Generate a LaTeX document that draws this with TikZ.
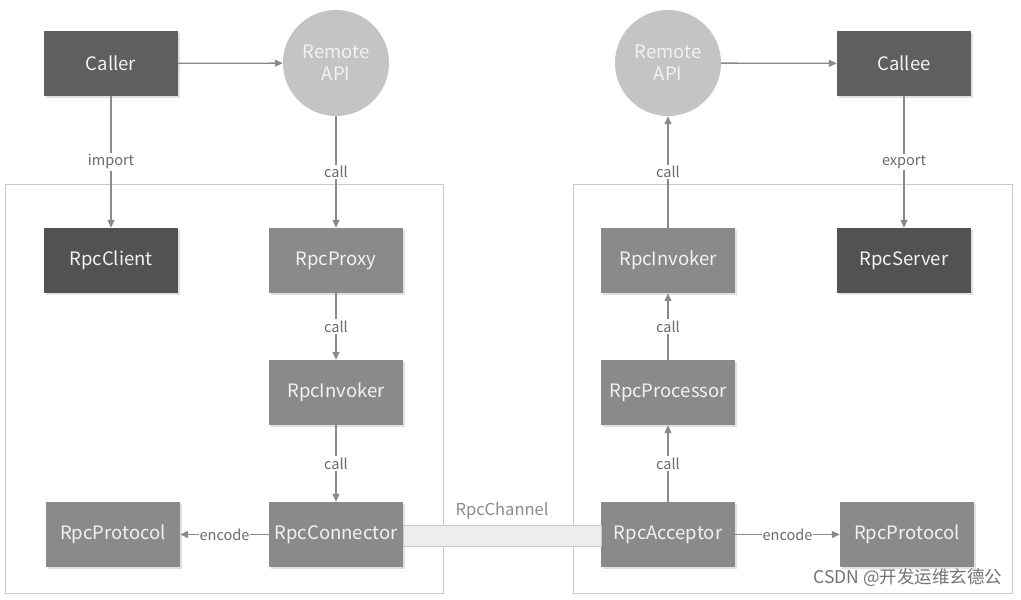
\documentclass[tikz,border=0pt]{standalone}
\usepackage{fontspec}
\setmainfont{Noto Sans CJK SC}
\newfontfamily\cjkfont{Noto Sans CJK SC}
\usetikzlibrary{arrows.meta,shadows}
\definecolor{darkbox}{HTML}{5F5F5F}
\definecolor{darkerbox}{HTML}{525252}
\definecolor{midbox}{HTML}{8A8A8A}
\definecolor{circfill}{HTML}{C4C4C4}
\definecolor{linecol}{HTML}{8A8A8A}
\definecolor{framecol}{HTML}{C8C8C8}
\definecolor{boxtext}{HTML}{F2F2F2}
\definecolor{labcol}{HTML}{6A6A6A}
\tikzset{
  basebox/.style={rectangle, minimum width=134pt, minimum height=65pt, inner sep=0pt,
    text=boxtext, font=\fontsize{18.5}{20}\selectfont,
    drop shadow={shadow xshift=1.5pt, shadow yshift=-1.5pt, fill=black, opacity=0.12}},
  darkb/.style={basebox, fill=darkbox},
  darkerb/.style={basebox, fill=darkerbox},
  midb/.style={basebox, fill=midbox},
  apicirc/.style={circle, fill=circfill, minimum size=106pt, inner sep=0pt, align=center,
    text=boxtext, font=\fontsize{18.5}{22}\selectfont},
  conn/.style={draw=linecol, line width=1.3pt, -{Triangle[length=8pt,width=7pt]}},
  lab/.style={fill=white, inner sep=1.5pt, text=labcol, font=\fontsize{14.5}{16}\selectfont},
  frame/.style={draw=framecol, line width=1pt},
}
\begin{document}
\begin{tikzpicture}[x=1pt,y=-1pt]
\useasboundingbox (0,0) rectangle (1021,600);
\fill[white] (0,0) rectangle (1021,600);
% containers
\draw[frame] (5,184) rectangle (443,593);
\draw[frame] (573,184) rectangle (1012,593);
% nodes
\node[darkb] (caller) at (111,63.5) {Caller};
\node[apicirc] (apiL) at (336,63) {Remote\\API};
\node[apicirc] (apiR) at (668,63) {Remote\\API};
\node[darkb] (callee) at (904,63.5) {Callee};
\node[darkerb] (client) at (111,260.5) {RpcClient};
\node[midb] (proxy) at (336,260.5) {RpcProxy};
\node[midb] (invL) at (336,392.5) {RpcInvoker};
\node[midb] (connector) at (336,534.5) {RpcConnector};
\node[midb] (protL) at (113,534.5) {RpcProtocol};
\node[midb] (invR) at (668,260.5) {RpcInvoker};
\node[darkerb] (server) at (904,260.5) {RpcServer};
\node[midb] (proc) at (668,392.5) {RpcProcessor};
\node[midb] (acceptor) at (668,534.5) {RpcAcceptor};
\node[midb] (protR) at (907,534.5) {RpcProtocol};
% channel
\node[draw=framecol, fill=black!7, line width=1pt, inner sep=0pt,
  minimum height=21pt, minimum width=198pt] (chan) at (502,535.5) {};
\node[text=black!45, font=\fontsize{16.5}{18}\selectfont] (chanlab) at (502,511) {RpcChannel};
% connectors
\draw[conn] (caller) -- (apiL);
\draw[conn] (apiR) -- (callee);
\draw[conn] (caller) -- node[lab] {import} (client);
\draw[conn] (apiL) -- node[lab] {call} (proxy);
\draw[conn] (proxy) -- node[lab] {call} (invL);
\draw[conn] (invL) -- node[lab] {call} (connector);
\draw[conn] (connector) -- node[lab, inner sep=0.5pt] {encode} (protL);
\draw[conn] (acceptor) -- node[lab] {call} (proc);
\draw[conn] (proc) -- node[lab] {call} (invR);
\draw[conn] (invR) -- node[lab] {call} (apiR);
\draw[conn] (callee) -- node[lab] {export} (server);
\draw[conn] (acceptor) -- node[lab, inner sep=0.5pt] {encode} (protR);
% watermark
\node[text=black!55, font=\cjkfont\fontsize{17.5}{19}\selectfont, anchor=east] (wm) at (1006,578) {CSDN @开发运维玄德公};
\end{tikzpicture}
\end{document}
